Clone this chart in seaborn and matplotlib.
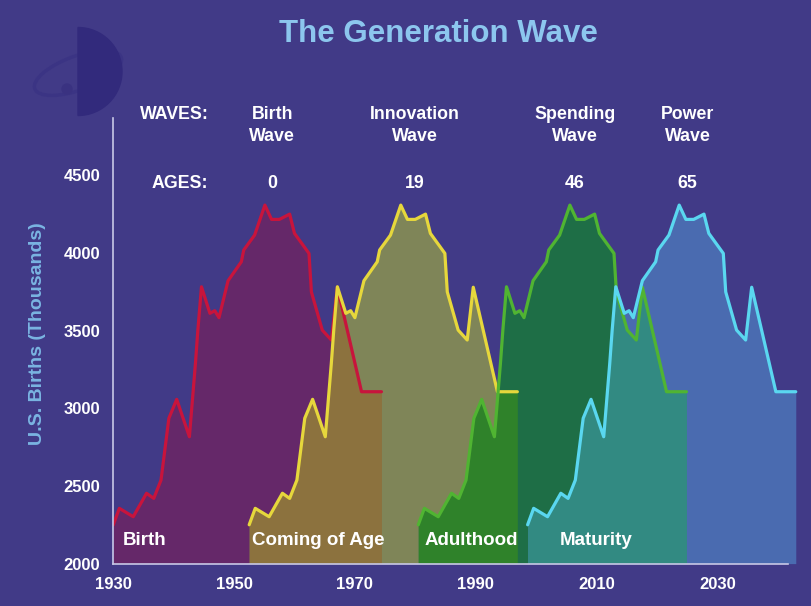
import numpy as np
import pandas as pd
import seaborn as sns
import matplotlib.pyplot as plt
from matplotlib.patches import Wedge, Ellipse, Circle

######### Data #########
# the birth wave (red curve), US births in thousands
birth_years = [1930.0, 1931.0, 1933.3, 1935.5, 1936.7, 1937.9, 1939.2, 1940.5, 1942.6, 1943.6,
               1944.0, 1944.6, 1946.0, 1946.8, 1947.5, 1949.0, 1951.2, 1951.6, 1953.4, 1955.1,
               1956.2, 1957.5, 1959.2, 1960.0, 1962.4, 1962.8, 1964.6, 1966.1, 1967.1, 1971.1, 1974.4]
births = [2250, 2356, 2302, 2453, 2420, 2538, 2936, 3058, 2817, 3290,
          3504, 3783, 3612, 3629, 3584, 3822, 3944, 4020, 4116, 4309,
          4217, 4217, 4251, 4127, 3998, 3750, 3504, 3440, 3780, 3107, 3107]

stages = ["Birth", "Coming of Age", "Adulthood", "Maturity"]
wave_names = ["Birth\nWave", "Innovation\nWave", "Spending\nWave", "Power\nWave"]
wave_ages = ["0", "19", "46", "65"]
# how far each copy of the curve sits to the right of the birth wave (years, as drawn)
wave_lag = [0, 22.5, 50.5, 68.6]

######### Styling #########
bg = "#413a87"
line_colors = ["#c8143c", "#e6d73c", "#50b432", "#5ad7f0"]
fill_colors = ["#652869", "#7f8558", "#1e6e46", "#4a6bb0"]
overlap_colors = ["#8c723e", "#2f822a", "#328a82"]
axis_col = "#c8c8e6"

sns.set_style("white", {"axes.facecolor": bg, "figure.facecolor": bg})
plt.rcParams["font.family"] = ["Liberation Sans", "DejaVu Sans"]

rows = []
for stage, lag in zip(stages, wave_lag):
    for yr, b in zip(birth_years, births):
        rows.append({"wave": stage, "year": yr + lag, "births": b})
df = pd.DataFrame(rows)

fig = plt.figure(figsize=(8.11, 6.06), dpi=100)
ax = fig.add_axes([113.3 / 811, 42.4 / 606, 686.7 / 811, 463.6 / 606])
ax.set_xlim(1930, 2043.7)
ax.set_ylim(2000, 4986)

# filled areas, later waves over earlier ones, overlaps get their own tint
for i, stage in enumerate(stages):
    cur = df[df.wave == stage]
    ax.fill_between(cur.year, 2000, cur.births, color=fill_colors[i], lw=0, zorder=1)
    if i > 0:
        prev = df[df.wave == stages[i - 1]]
        grid = np.linspace(cur.year.min(), prev.year.max(), 1500)
        top = np.minimum(np.interp(grid, prev.year, prev.births),
                         np.interp(grid, cur.year, cur.births))
        ax.fill_between(grid, 2000, top, color=overlap_colors[i - 1], lw=0, zorder=1)

sns.lineplot(data=df, x="year", y="births", hue="wave", hue_order=stages,
             palette=line_colors, linewidth=2.3, legend=False, ax=ax, zorder=3)

# axes
for side in ["top", "right"]:
    ax.spines[side].set_visible(False)
ax.spines["left"].set_bounds(2000, 4870)
ax.spines["bottom"].set_bounds(1930, 2041.7)
for side in ["left", "bottom"]:
    ax.spines[side].set_color(axis_col)
    ax.spines[side].set_linewidth(1.2)
    ax.spines[side].set_zorder(4)

ax.set_xticks([1930, 1950, 1970, 1990, 2010, 2030])
ax.set_yticks([2000, 2500, 3000, 3500, 4000, 4500])
ax.tick_params(axis="x", length=3.6, width=1, color=axis_col, labelcolor="white",
               labelsize=12, pad=6)
ax.tick_params(axis="y", length=5, width=1, color=axis_col, labelcolor="white",
               labelsize=12, pad=4.5)
for lab in ax.get_xticklabels() + ax.get_yticklabels():
    lab.set_fontweight("bold")
ax.set_xlabel("")
ax.set_ylabel("U.S. Births (Thousands)", color="#7ab4e2", fontsize=14, fontweight="bold")
ax.yaxis.set_label_coords(-0.098, 0.496)

# header rows
head = dict(color="white", fontsize=12.8, fontweight="bold", ha="center", va="center",
            clip_on=False)
ax.text(1940.2, 4890, "WAVES:", **head)
ax.text(1941.0, 4450, "AGES:", **head)
for x, name, age in zip([1956.3, 1979.9, 2006.4, 2025.1], wave_names, wave_ages):
    ax.text(x, 4822, name, linespacing=1.4, **head)
    ax.text(x, 4450, age, **head)

# life stage labels along the bottom
for x, stage in zip([1931.6, 1952.9, 1981.6, 2004.0], stages):
    ax.text(x, 2150, stage, color="white", fontsize=13.5, fontweight="bold",
            ha="left", va="center", zorder=5)

fig.text(438 / 811, 1 - 34 / 606, "The Generation Wave", ha="center", va="center",
         fontsize=22.5, fontweight="bold", color="#8cc6ee")

# faint logo in the corner
tr = fig.dpi_scale_trans
fig.patches.append(Ellipse((0.78, 5.33), 0.92, 0.34, angle=20, fill=False,
                           ec="#3b3484", lw=2.5, transform=tr))
fig.patches.append(Wedge((0.78, 5.345), 0.44, -90, 90, color="#322a7c", transform=tr))
fig.patches.append(Circle((0.67, 5.17), 0.05, color="#3a3281", transform=tr))

fig.savefig("out.png", dpi=100, facecolor=bg)
